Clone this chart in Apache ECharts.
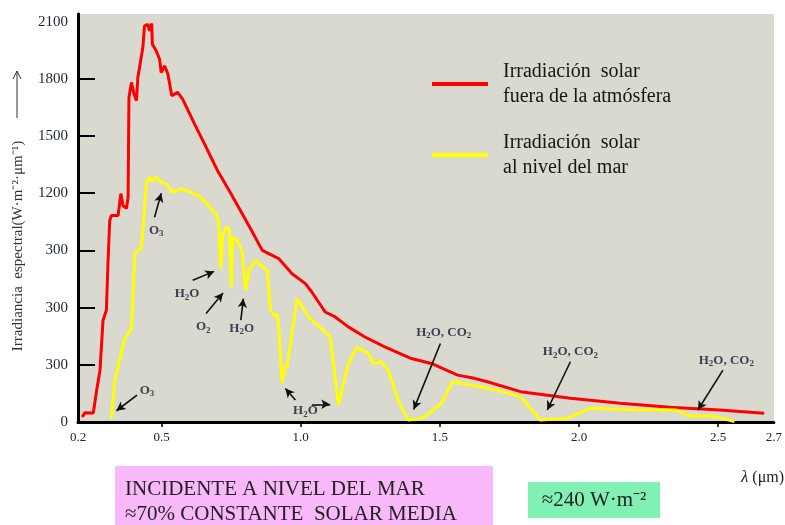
<!DOCTYPE html>
<html>
<head>
<meta charset="utf-8">
<script src="https://cdn.jsdelivr.net/npm/echarts@6/dist/echarts.min.js"></script>
<style>html,body{margin:0;padding:0;background:#fff;}#c{width:785px;height:525px;}</style>
</head>
<body>
<div id="c"></div>
<script>
// ---- data ----
const seriesNames = ['Irradiación solar fuera de la atmósfera', 'Irradiación solar al nivel del mar'];
const legendLabels = ['Irradiación  solar\nfuera de la atmósfera', 'Irradiación  solar\nal nivel del mar'];

const outsideAtmosphere = [
  [0.215,26],[0.225,49],[0.255,47],[0.267,167],[0.279,272],[0.29,534],[0.302,586],[0.308,848],
  [0.314,1057],[0.32,1083],[0.344,1083],[0.354,1198],[0.362,1135],[0.374,1120],[0.38,1177],
  [0.383,1701],[0.392,1781],[0.401,1722],[0.41,1685],[0.415,1807],[0.433,1964],[0.439,2078],
  [0.451,2086],[0.457,2051],[0.465,2090],[0.467,1982],[0.481,1947],[0.493,1903],[0.499,1833],
  [0.511,1868],[0.523,1825],[0.537,1711],[0.558,1729],[0.576,1694],[0.618,1565],[0.654,1460],
  [0.701,1319],[0.743,1214],[0.79,1092],[0.82,1014],[0.862,900],[0.921,857],[0.969,778],
  [1.017,726],[1.04,682],[1.088,577],[1.124,551],[1.171,499],[1.231,446],[1.302,394],
  [1.398,333],[1.469,307],[1.564,246],[1.624,229],[1.671,211],[1.79,159],[1.969,124],
  [2.148,98],[2.326,77],[2.505,63],[2.665,46]
];

const seaLevel = [
  [0.32,19],[0.332,220],[0.368,438],[0.392,490],[0.398,673],[0.404,883],[0.415,900],[0.427,909],
  [0.437,1074],[0.445,1249],[0.454,1284],[0.465,1266],[0.481,1284],[0.499,1257],[0.517,1249],
  [0.54,1205],[0.57,1223],[0.606,1205],[0.642,1179],[0.695,1092],[0.705,1057],[0.713,804],
  [0.719,970],[0.731,1022],[0.743,1014],[0.751,708],[0.755,970],[0.773,952],[0.79,891],
  [0.802,691],[0.814,795],[0.838,848],[0.88,795],[0.892,586],[0.91,551],[0.915,569],[0.921,499],
  [0.933,205],[0.943,289],[0.951,289],[0.987,647],[1.029,551],[1.106,446],[1.136,89],[1.171,307],
  [1.201,391],[1.243,360],[1.261,307],[1.29,316],[1.314,272],[1.35,115],[1.386,10],[1.433,19],
  [1.469,54],[1.505,98],[1.546,211],[1.611,194],[1.707,167],[1.79,132],[1.861,10],[1.957,19],
  [2.04,72],[2.207,63],[2.35,63],[2.397,31],[2.481,31],[2.517,19],[2.558,2]
];

const xTickValues = [0.2, 0.5, 1.0, 1.5, 2.0, 2.5, 2.7];
const xTickLabels = ['0.2', '0.5', '1.0', '1.5', '2.0', '2.5', '2.7'];
const xTickMarks = [0.5, 1.0, 1.5, 2.0, 2.5];
const yTickValues = [0, 300, 600, 900, 1200, 1500, 1800, 2100];
const yTickLabels = ['0', '300', '300', '300', '1200', '1500', '1800', '2100'];

// absorption annotations (data units)
const annoText = ['O₃', 'H₂O', 'O₂', 'H₂O', 'O₃', 'H₂O', 'H₂O, CO₂', 'H₂O, CO₂', 'H₂O, CO₂'];
const annoX = [0.481, 0.592, 0.65, 0.788, 0.448, 1.017, 1.514, 1.969, 2.529];
const annoY = [1005, 673, 499, 490, 167, 58, 469, 368, 324];
const arrowFrom = [[0.475,1074],[0.612,743],[0.66,569],[0.785,534],[0.412,141],[0.981,115],[1.04,93],[1.502,412],[1.969,316],[2.517,272]];
const arrowTo   = [[0.499,1200],[0.689,790],[0.721,677],[0.794,647],[0.338,59],[0.945,176],[1.106,93],[1.406,66],[1.886,63],[2.427,63]];

// ---- chart ----
const serif = 'Liberation Serif, Times New Roman, serif';
const toRich = t => t.replace(/₂/g, '{s|2}').replace(/₃/g, '{s|3}');
const chart = echarts.init(document.getElementById('c'));
chart.setOption({
  backgroundColor: '#ffffff',
  animation: false,
  grid: { left: 78, right: 7, top: 14, bottom: 103, show: true, backgroundColor: '#d9d9d0', borderWidth: 0 },
  legend: {
    orient: 'vertical', left: 432, top: 59, padding: 0, itemGap: 21, itemWidth: 56, itemHeight: 4,
    icon: 'rect', data: seriesNames,
    formatter: n => legendLabels[seriesNames.indexOf(n)],
    textStyle: { fontFamily: serif, fontSize: 20, lineHeight: 25, color: '#161616', padding: [0,0,0,10] }
  },
  xAxis: {
    type: 'value', min: 0.2, max: 2.7,
    axisLine: { show: true, lineStyle: { color: '#000', width: 3 } },
    axisTick: { show: true, inside: false, length: 5, customValues: xTickMarks, lineStyle: { color: '#000', width: 1.5 } },
    axisLabel: { customValues: xTickValues, margin: 9, fontFamily: serif, fontSize: 13, color: '#222',
      formatter: v => { const i = xTickValues.findIndex(t => Math.abs(t - v) < 1e-6); return i >= 0 ? xTickLabels[i] : ''; } },
    splitLine: { show: false }
  },
  yAxis: {
    type: 'value', min: 0, max: 2140,
    axisLine: { show: true, lineStyle: { color: '#000', width: 3 } },
    axisTick: { show: true, inside: true, length: 17, customValues: yTickValues.slice(1, 7), lineStyle: { color: '#000', width: 2 } },
    axisLabel: { customValues: yTickValues, margin: 10, fontFamily: serif, fontSize: 15, color: '#1c2535',
      formatter: v => { const i = yTickValues.indexOf(Math.round(v)); return i >= 0 ? yTickLabels[i] : ''; } },
    splitLine: { show: false }
  },
  series: [
    { name: seriesNames[0], type: 'line', data: outsideAtmosphere, showSymbol: false, color: '#ff0000',
      lineStyle: { width: 3, color: '#ff0000' }, z: 2 },
    { name: seriesNames[1], type: 'line', data: seaLevel, showSymbol: false, color: '#ffff00',
      lineStyle: { width: 3, color: '#ffff00' }, z: 3 },
    { name: 'arrows', type: 'line', data: [], z: 4,
      markLine: { silent: true, symbol: ['none', 'arrow'], symbolSize: [7, 9], label: { show: false },
        lineStyle: { color: '#111', width: 1.6, type: 'solid' },
        data: arrowFrom.map((f, i) => [{ coord: f }, { coord: arrowTo[i] }]) } },
    { name: 'labels', type: 'scatter', symbolSize: 0, z: 5, silent: true,
      data: annoText.map((t, i) => ({ value: [annoX[i], annoY[i]], name: t })),
      label: { show: true, position: 'inside', formatter: p => toRich(p.name),
        fontFamily: serif, fontWeight: 'bold', fontSize: 13, lineHeight: 16, color: '#151530',
        rich: { s: { fontFamily: serif, fontWeight: 'bold', fontSize: 9, lineHeight: 9, verticalAlign: 'bottom', color: '#151530' } } } }
  ],
  graphic: [
    { type: 'text', x: 18, y: 246, rotation: Math.PI / 2,
      style: { text: 'Irradiancia  espectral(W·m⁻²·μm⁻¹)', font: '15px ' + serif, fill: '#333', textAlign: 'center', textVerticalAlign: 'middle' } },
    { type: 'line', shape: { x1: 17, y1: 118, x2: 17, y2: 71 }, style: { stroke: '#333', lineWidth: 1 } },
    { type: 'polyline', shape: { points: [[13, 79], [17, 71], [21, 79]] }, style: { stroke: '#333', lineWidth: 1, fill: null } },
    { type: 'text', x: 741, y: 478,
      style: { text: '{i|λ} (μm)', font: '16px ' + serif, fill: '#222', textVerticalAlign: 'middle',
        rich: { i: { fontStyle: 'italic', fontFamily: serif, fontSize: 17, fill: '#222' } } } },
    { type: 'rect', shape: { x: 115, y: 466, width: 378, height: 59 }, style: { fill: '#f9b8f9' } },
    { type: 'text', x: 125, y: 502,
      style: { text: 'INCIDENTE A NIVEL DEL MAR\n≈70% CONSTANTE  SOLAR MEDIA', font: '21px ' + serif, lineHeight: 25, fill: '#222', textVerticalAlign: 'middle' } },
    { type: 'rect', shape: { x: 528, y: 482, width: 132, height: 36 }, style: { fill: '#80f0b4' } },
    { type: 'text', x: 594, y: 500,
      style: { text: '≈240 W·m⁻²', font: '21px ' + serif, fill: '#222', textAlign: 'center', textVerticalAlign: 'middle' } }
  ]
});
</script>
</body>
</html>
